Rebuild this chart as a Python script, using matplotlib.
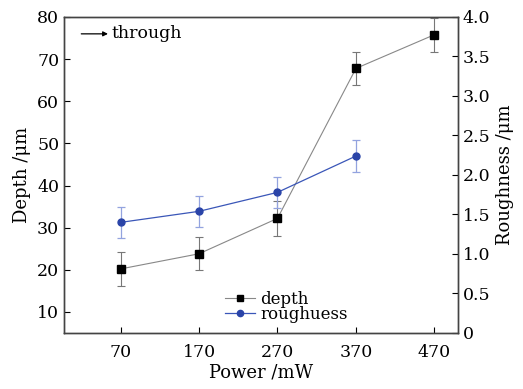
import numpy as np
import matplotlib
matplotlib.use("Agg")
import matplotlib.pyplot as plt
from matplotlib.lines import Line2D

plt.rcParams['font.family'] = ['DejaVu Serif']
plt.rcParams['mathtext.fontset'] = 'dejavuserif'

# Dados
power = [70, 170, 270, 370, 470]
depth = [20.2, 23.8, 32.2, 67.8, 75.8]
depth_err = [4.0, 3.9, 4.2, 4.0, 4.0]
power_r = [70, 170, 270, 370]
rough = [1.40, 1.54, 1.78, 2.24]
rough_err = [0.20, 0.20, 0.20, 0.20]

fig = plt.figure(figsize=(5.23, 3.89), dpi=100)
ax = fig.add_axes([0.1224, 0.144, 0.7533, 0.8123])
ax2 = ax.twinx()

ax.errorbar(power, depth, yerr=depth_err, color="#888888", lw=0.8,
            marker="s", ms=5.2, mfc="black", mec="black", ecolor="#777777",
            elinewidth=0.8, capsize=3, capthick=0.8, zorder=3)
ax2.errorbar(power_r, rough, yerr=rough_err, color="#3a56b8", lw=0.9,
             marker="o", ms=5, mfc="#2a44a8", mec="#2a44a8", ecolor="#93a3df",
             elinewidth=0.9, capsize=3, capthick=0.9, zorder=3)

ax.set_xlim(-2, 500)
ax.set_ylim(5, 80)
ax2.set_ylim(0, 4)
ax.set_xticks(power)
ax.set_yticks(range(10, 81, 10))
ax2.set_yticks(np.arange(0, 4.01, 0.5))
ax2.set_yticklabels(["0"] + ["%.1f" % v for v in np.arange(0.5, 4.01, 0.5)])

ax.tick_params(direction="in", length=4, width=0.8, labelsize=12.5)
ax.tick_params(axis="x", top=False, pad=8)
ax2.tick_params(direction="in", length=4, width=0.8, labelsize=12.5)
for a in (ax, ax2):
    for s in a.spines.values():
        s.set_color("#444444")
        s.set_linewidth(1.0)

ax.set_xlabel("Power /mW", fontsize=13, labelpad=2)
ax.set_ylabel("Depth /μm", fontsize=13, labelpad=4)
ax2.set_ylabel("Roughness /μm", fontsize=13, labelpad=4)

# Seta "through"
ax.annotate("", xy=(54, 76), xytext=(20, 76),
            arrowprops=dict(arrowstyle="-|>", color="black", lw=0.9,
                            mutation_scale=7, shrinkA=0, shrinkB=0))
ax.text(59, 76, "through", fontsize=12.5, va="center", ha="left")

handles = [Line2D([], [], color="#888888", lw=0.8, marker="s", ms=4.5,
                  mfc="black", mec="black"),
           Line2D([], [], color="#3a56b8", lw=0.9, marker="o", ms=4.5,
                  mfc="#2a44a8", mec="#2a44a8")]
ax.legend(handles, ["depth", "roughuess"], loc="lower left",
          bbox_to_anchor=(0.38, -0.005), frameon=False, fontsize=12,
          handlelength=1.8, handletextpad=0.3, labelspacing=-0.1, borderpad=0.2)

plt.savefig("out.png", dpi=100)
